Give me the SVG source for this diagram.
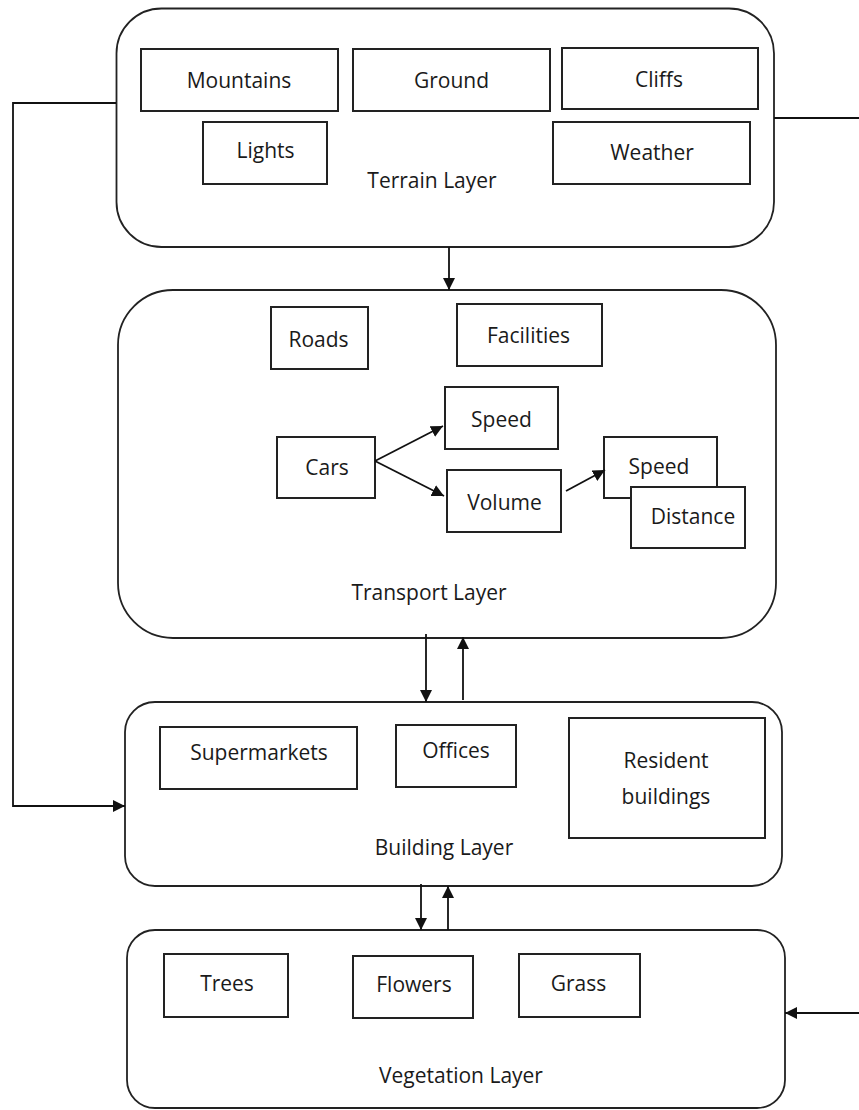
<svg xmlns="http://www.w3.org/2000/svg" width="859" height="1110" viewBox="0 0 859 1110">
<style>
.layer{fill:#fff;stroke:#222;stroke-width:1.8}
.box{fill:#fff;stroke:#222;stroke-width:2}
text{font-family:"Open Sans","Noto Sans","DejaVu Sans",sans-serif;font-size:21px;fill:#1a1a1a;text-anchor:middle}
.conn{fill:none;stroke:#111;stroke-width:1.8}
</style>
<defs>
<marker id="arr" markerUnits="userSpaceOnUse" markerWidth="13" markerHeight="12" refX="12" refY="6" orient="auto">
<path d="M0,0 L12,6 L0,12 z" fill="#111"/>
</marker>
</defs>
<rect width="859" height="1110" fill="#fff"/>

<g id="terrain-layer">
<rect class="layer" x="116.5" y="8.5" width="657.5" height="238.5" rx="45"/>
<text x="432" y="188">Terrain Layer</text>
</g>
<g id="mountains"><rect class="box" x="141" y="49" width="197" height="62"/><text x="239" y="88">Mountains</text></g>
<g id="ground"><rect class="box" x="353" y="49" width="197" height="62"/><text x="451.5" y="88">Ground</text></g>
<g id="cliffs"><rect class="box" x="562" y="48" width="196" height="61"/><text x="659" y="87">Cliffs</text></g>
<g id="lights"><rect class="box" x="203" y="122" width="124" height="62"/><text x="265.5" y="158">Lights</text></g>
<g id="weather"><rect class="box" x="553" y="122" width="197" height="62"/><text x="652" y="160">Weather</text></g>

<g id="transport-layer">
<rect class="layer" x="118" y="290" width="658" height="348" rx="55"/>
<text x="429" y="600">Transport Layer</text>
</g>
<g id="roads"><rect class="box" x="271" y="307" width="97" height="62"/><text x="318.5" y="347">Roads</text></g>
<g id="facilities"><rect class="box" x="457" y="304" width="145" height="62"/><text x="528.5" y="343">Facilities</text></g>
<g id="speed1"><rect class="box" x="445" y="387" width="113" height="62"/><text x="501.5" y="427">Speed</text></g>
<g id="cars"><rect class="box" x="277" y="437" width="98" height="61"/><text x="327" y="475">Cars</text></g>
<g id="volume"><rect class="box" x="447" y="470" width="114" height="62"/><text x="504.5" y="510">Volume</text></g>
<g id="speed2"><rect class="box" x="604" y="437" width="113" height="61"/><text x="659" y="474">Speed</text></g>
<g id="distance"><rect class="box" x="631" y="487" width="114" height="61"/><text x="693" y="524">Distance</text></g>

<g id="building-layer">
<rect class="layer" x="125" y="702" width="657" height="184" rx="30"/>
<text x="444" y="855">Building Layer</text>
</g>
<g id="supermarkets"><rect class="box" x="160" y="727" width="197" height="62"/><text x="259" y="760">Supermarkets</text></g>
<g id="offices"><rect class="box" x="396" y="725" width="120" height="62"/><text x="456" y="758">Offices</text></g>
<g id="resident"><rect class="box" x="569" y="718" width="196" height="120"/><text x="666" y="768">Resident</text><text x="666" y="804">buildings</text></g>

<g id="vegetation-layer">
<rect class="layer" x="127" y="930" width="658" height="178" rx="28"/>
<text x="461" y="1083">Vegetation Layer</text>
</g>
<g id="trees"><rect class="box" x="164" y="954" width="124" height="63"/><text x="227" y="991">Trees</text></g>
<g id="flowers"><rect class="box" x="353" y="956" width="120" height="62"/><text x="414" y="992">Flowers</text></g>
<g id="grass"><rect class="box" x="519" y="954" width="121" height="63"/><text x="578.5" y="991">Grass</text></g>

<g id="connectors">
<path class="conn" d="M116,103 H13 V806 H125" marker-end="url(#arr)"/>
<path class="conn" d="M774,118 H859"/>
<path class="conn" d="M859,1013 H785" marker-end="url(#arr)"/>
<path class="conn" d="M449,247 V290" marker-end="url(#arr)"/>
<path class="conn" d="M426,634 V702" marker-end="url(#arr)"/>
<path class="conn" d="M463,700 V637" marker-end="url(#arr)"/>
<path class="conn" d="M421,884 V930" marker-end="url(#arr)"/>
<path class="conn" d="M448,930 V886" marker-end="url(#arr)"/>
<path class="conn" d="M375,461 L443,426" marker-end="url(#arr)"/>
<path class="conn" d="M375,461 L444,496" marker-end="url(#arr)"/>
<path class="conn" d="M566,491 L605,470" marker-end="url(#arr)"/>
</g>
</svg>
